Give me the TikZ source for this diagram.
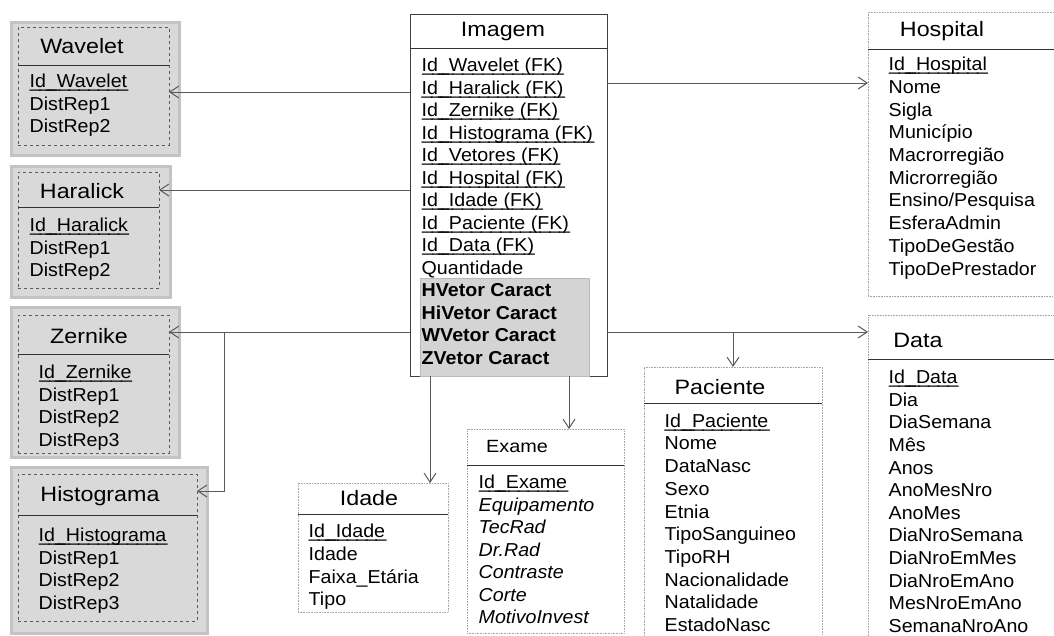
\documentclass[tikz,border=0pt]{standalone}
\usepackage{fontspec}
\setmainfont{Liberation Sans}[FakeStretch=1.05]
\newfontfamily\titulofont{Liberation Sans}[FakeStretch=1.12]
\usepackage{tikz}
\usetikzlibrary{arrows.meta, positioning, calc}
\definecolor{linhacinza}{HTML}{5A5A5A}
\definecolor{bordaroxa}{HTML}{5E5470}
\definecolor{fundocinza}{HTML}{D9D9D9}
\definecolor{bordacinza}{HTML}{C3C3C3}
\definecolor{blococinza}{HTML}{D4D4D4}
% chave primaria: sublinhado na altura do traco baixo
\newcommand\chave[1]{\setbox0=\hbox{#1}\rlap{\hbox to \wd0{\xleaders\hbox{\_\kern-1.5pt}\hfill}}\box0}

\begin{document}
\begin{tikzpicture}[
  x=1pt, y=-1pt,
  principal/.style={draw=black!75, line width=0.8pt, fill=white,
    inner sep=0pt, outer sep=0pt, anchor=north west},
  tabela/.style={draw=gray!70, densely dotted, line width=0.6pt, fill=white,
    inner sep=0pt, outer sep=0pt, anchor=north west},
  moldura/.style={draw=bordacinza, line width=3pt, fill=fundocinza,
    inner sep=0pt, anchor=north west},
  caixa/.style={draw=bordaroxa, dashed, line width=0.6pt, fill=fundocinza,
    inner sep=0pt, outer sep=0pt, anchor=north west},
  bloco/.style={draw=gray!55, line width=1pt, fill=blococinza,
    inner sep=0pt, anchor=north west},
  titulo/.style={font=\titulofont\fontsize{20.8}{24}\selectfont},
  campos/.style={font=\fontsize{18.7}{22.6}\selectfont, align=left,
    inner sep=0pt, anchor=north west},
  cabeca/.style={draw=black!80, line width=0.8pt},
  liga/.style={draw=linhacinza, line width=1pt,
    -{Straight Barb[length=9pt, width=12pt]}}
]
  \useasboundingbox (0,0) rectangle (1054,635);

  % Imagem
  \node[principal, minimum width=197pt, minimum height=362pt] (imagem) at (410,14) {};
  \node[bloco, minimum width=169pt, minimum height=98pt] (vetores) at (420,278) {};
  \node[titulo] (imagem-t) at (503,32) {Imagem};
  \draw[cabeca] (imagem.west |- 0,48) -- (imagem.east |- 0,48);
  \node[campos, font=\fontsize{18.7}{22.5}\selectfont] (imagem-c) at (421.5,58)
    {\chave{Id\_Wavelet (FK)}\\ \chave{Id\_Haralick (FK)}\\ \chave{Id\_Zernike (FK)}\\
     \chave{Id\_Histograma (FK)}\\ \chave{Id\_Vetores (FK)}\\ \chave{Id\_Hospital (FK)}\\
     \chave{Id\_Idade (FK)}\\ \chave{Id\_Paciente (FK)}\\ \chave{Id\_Data (FK)}\\
     Quantidade\\ \textbf{HVetor Caract}\\ \textbf{HiVetor Caract}\\
     \textbf{WVetor Caract}\\ \textbf{ZVetor Caract}};

  % Wavelet
  \node[moldura, minimum width=168pt, minimum height=133pt] (wavelet-m) at (9.5,20.5) {};
  \node[caixa, minimum width=151pt, minimum height=118pt] (wavelet) at (18,27) {};
  \node[titulo] (wavelet-t) at (82,46) {Wavelet};
  \draw[cabeca] (wavelet.west |- 0,65) -- (wavelet.east |- 0,65);
  \node[campos] (wavelet-c) at (29.5,74) {\chave{Id\_Wavelet}\\ DistRep1\\ DistRep2};

  % Haralick
  \node[moldura, minimum width=159pt, minimum height=131pt] (haralick-m) at (9.5,164.5) {};
  \node[caixa, minimum width=141pt, minimum height=116pt] (haralick) at (18,172) {};
  \node[titulo] (haralick-t) at (82,191) {Haralick};
  \draw[cabeca] (haralick.west |- 0,207) -- (haralick.east |- 0,207);
  \node[campos] (haralick-c) at (29.5,218) {\chave{Id\_Haralick}\\ DistRep1\\ DistRep2};

  % Zernike
  \node[moldura, minimum width=168pt, minimum height=150pt] (zernike-m) at (9.5,305.5) {};
  \node[caixa, minimum width=151pt, minimum height=138pt] (zernike) at (18,315) {};
  \node[titulo] (zernike-t) at (89,336) {Zernike};
  \draw[cabeca] (zernike.west |- 0,354) -- (zernike.east |- 0,354);
  \node[campos] (zernike-c) at (38.5,365) {\chave{Id\_Zernike}\\ DistRep1\\ DistRep2\\ DistRep3};

  % Histograma
  \node[moldura, minimum width=196pt, minimum height=166pt] (histograma-m) at (9.5,465.5) {};
  \node[caixa, minimum width=179pt, minimum height=147pt] (histograma) at (18,474) {};
  \node[titulo] (histograma-t) at (100,496) {Histograma};
  \draw[cabeca] (histograma.west |- 0,515) -- (histograma.east |- 0,515);
  \node[campos] (histograma-c) at (38.5,528) {\chave{Id\_Histograma}\\ DistRep1\\ DistRep2\\ DistRep3};

  % Hospital
  \node[tabela, minimum width=190pt, minimum height=284pt] (hospital) at (868,12) {};
  \node[titulo] (hospital-t) at (942,31) {Hospital};
  \draw[cabeca] (hospital.west |- 0,49) -- (hospital.east |- 0,49);
  \node[campos, font=\fontsize{18.7}{22.7}\selectfont] (hospital-c) at (888.5,57)
    {\chave{Id\_Hospital}\\ Nome\\ Sigla\\ Município\\ Macrorregião\\ Microrregião\\
     Ensino/Pesquisa\\ EsferaAdmin\\ TipoDeGestão\\ TipoDePrestador};

  % Data
  \node[tabela, minimum width=190pt, minimum height=330pt] (data) at (868,315) {};
  \node[titulo] (data-t) at (918,340) {Data};
  \draw[cabeca] (data.west |- 0,359) -- (data.east |- 0,359);
  \node[campos] (data-c) at (888.5,370)
    {\chave{Id\_Data}\\ Dia\\ DiaSemana\\ Mês\\ Anos\\ AnoMesNro\\ AnoMes\\
     DiaNroSemana\\ DiaNroEmMes\\ DiaNroEmAno\\ MesNroEmAno\\ SemanaNroAno};

  % Paciente
  \node[tabela, minimum width=178pt, minimum height=280pt] (paciente) at (644,367) {};
  \node[titulo] (paciente-t) at (720,387) {Paciente};
  \draw[cabeca] (paciente.west |- 0,403) -- (paciente.east |- 0,403);
  \node[campos, font=\fontsize{18.7}{22.7}\selectfont] (paciente-c) at (664.5,413.5)
    {\chave{Id\_Paciente}\\ Nome\\ DataNasc\\ Sexo\\ Etnia\\ TipoSanguineo\\
     TipoRH\\ Nacionalidade\\ Natalidade\\ EstadoNasc};

  % Exame
  \node[tabela, minimum width=157pt, minimum height=204pt] (exame) at (467,429) {};
  \node[titulo, font=\titulofont\fontsize{17.7}{21}\selectfont] (exame-t) at (517,446) {Exame};
  \draw[cabeca] (exame.west |- 0,465) -- (exame.east |- 0,465);
  \node[campos, font=\fontsize{18.7}{22.5}\selectfont] (exame-c) at (478.5,475)
    {\chave{Id\_Exame}\\ \textit{Equipamento}\\ \textit{TecRad}\\ \textit{Dr.Rad}\\
     \textit{Contraste}\\ \textit{Corte}\\ \textit{MotivoInvest}};

  % Idade
  \node[tabela, minimum width=150pt, minimum height=129pt] (idade) at (298,483) {};
  \node[titulo] (idade-t) at (369,498) {Idade};
  \draw[cabeca] (idade.west |- 0,514) -- (idade.east |- 0,514);
  \node[campos, font=\fontsize{18.7}{22.7}\selectfont] (idade-c) at (308.5,524)
    {\chave{Id\_Idade}\\ Idade\\ Faixa\_Etária\\ Tipo};

  % ligacoes
  \coordinate (desvio) at (224,332);
  \coordinate (ramo) at (733,332);
  \draw[liga] (imagem.west |- 0,92) -- (wavelet.east |- 0,92);
  \draw[liga] (imagem.west |- 0,190) -- (haralick.east |- 0,190);
  \draw[liga] (imagem.west |- 0,332) -- (zernike.east |- 0,332);
  \draw[liga] (desvio) |- (histograma.east |- 0,491);
  \draw[liga] (imagem.east |- 0,83) -- (hospital.west |- 0,83);
  \draw[liga] (imagem.east |- 0,332) -- (data.west |- 0,332);
  \draw[liga] (ramo) -- (paciente.north);
  \draw[liga] (imagem.south -| 430,0) -- (idade.north -| 430,0);
  \draw[liga] (imagem.south -| 569,0) -- (exame.north -| 569,0);
\end{tikzpicture}
\end{document}
